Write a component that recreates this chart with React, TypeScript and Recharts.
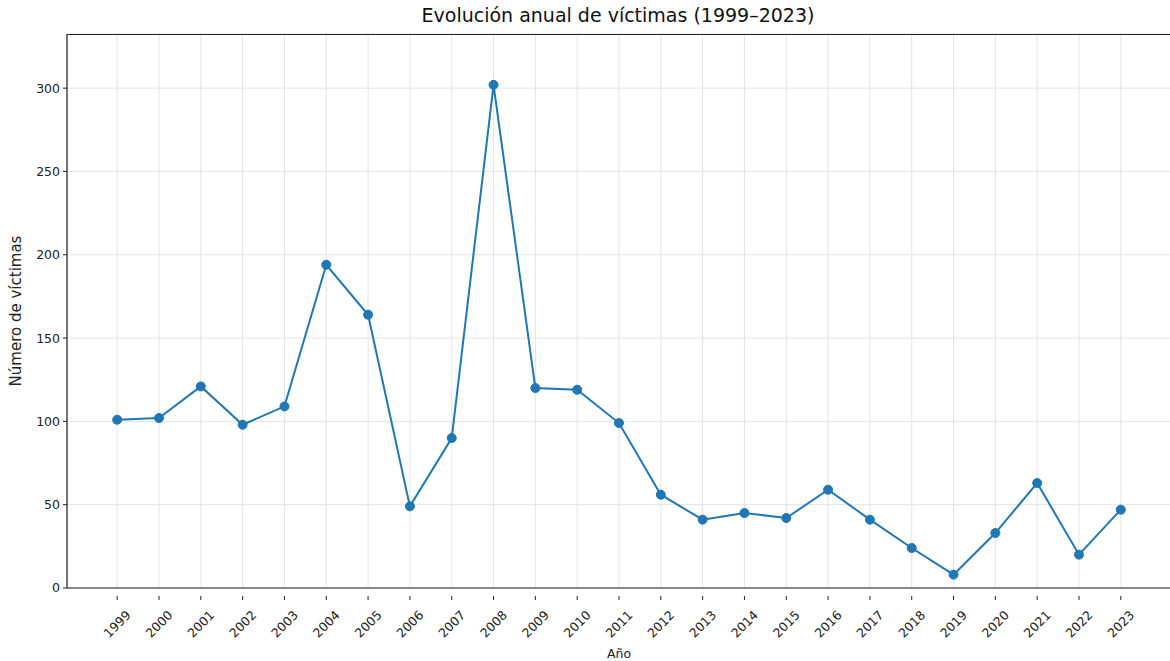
import { LineChart, Line, XAxis, YAxis, CartesianGrid } from "recharts";

const years = [
  1999, 2000, 2001, 2002, 2003, 2004, 2005, 2006, 2007, 2008, 2009, 2010, 2011,
  2012, 2013, 2014, 2015, 2016, 2017, 2018, 2019, 2020, 2021, 2022, 2023,
];
const victims = [
  101, 102, 121, 98, 109, 194, 164, 49, 90, 302, 120, 119, 99, 56, 41, 45, 42,
  59, 41, 24, 8, 33, 63, 20, 47,
];
const yTicks = [0, 50, 100, 150, 200, 250, 300];

const data = years.map((y, i) => ({ year: y, value: victims[i] }));

const FONT = "'DejaVu Sans', sans-serif";

function YearTick(props: any) {
  const { x, y, payload } = props;
  return (
    <g>
      <line x1={x} y1={y} x2={x} y2={y + 4} stroke="#222" strokeWidth={1} />
      <text
        x={x}
        y={y + 28}
        transform={`rotate(-45, ${x}, ${y + 28})`}
        textAnchor="middle"
        dominantBaseline="central"
        fontSize={12.5}
        fill="#222"
        fontFamily={FONT}
      >
        {payload.value}
      </text>
    </g>
  );
}

export default function App() {
  return (
    <div style={{ position: "absolute", left: 0, top: 0, width: 1170, height: 661, background: "#fff" }}>
      <div
        style={{
          position: "absolute",
          top: 4,
          width: 1236,
          textAlign: "center",
          fontFamily: FONT,
          fontSize: 19,
          color: "#111",
        }}
      >
        Evolución anual de víctimas (1999–2023)
      </div>
      <LineChart
        width={1171}
        height={661}
        data={data}
        margin={{ top: 34, right: 0, bottom: 0, left: 0 }}
      >
        <CartesianGrid stroke="#e3e3e3" strokeWidth={1} />
        <XAxis
          dataKey="year"
          type="number"
          domain={[1997.8, 2024.2]}
          ticks={years}
          interval={0}
          height={73}
          tick={<YearTick />}
          tickLine={false}
          axisLine={{ stroke: "#222", strokeWidth: 1.2 }}
          label={{
            value: "Año",
            position: "insideBottom",
            offset: 3,
            fontSize: 12.5,
            fill: "#222",
            fontFamily: FONT,
          }}
        />
        <YAxis
          type="number"
          domain={[0, 332.5]}
          ticks={yTicks}
          width={67}
          tick={{ fontSize: 12.5, fill: "#222", fontFamily: FONT }}
          tickSize={4}
          tickMargin={3}
          tickLine={{ stroke: "#222" }}
          axisLine={{ stroke: "#222", strokeWidth: 1.2 }}
          allowDataOverflow
          label={{
            value: "Número de víctimas",
            angle: -90,
            position: "insideLeft",
            offset: 16,
            style: { textAnchor: "middle" },
            fontSize: 15,
            fill: "#222",
            fontFamily: FONT,
          }}
        />
        <Line
          dataKey="value"
          stroke="#1f77b4"
          strokeWidth={2}
          dot={{ r: 4.5, fill: "#1f77b4", stroke: "#1f77b4", strokeWidth: 1 }}
          isAnimationActive={false}
        />
      </LineChart>
      <div style={{ position: "absolute", left: 67, top: 34, width: 1104, height: 1, background: "#222" }} />
    </div>
  );
}
